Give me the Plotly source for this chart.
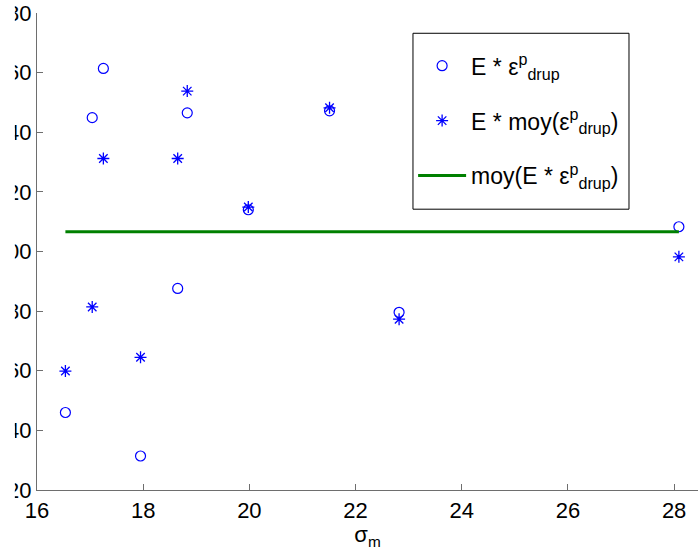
import plotly.graph_objects as go

# sigma_m values (x)
sigma_m = [16.535, 17.04, 17.25, 17.95, 18.65, 18.83, 19.98, 21.51, 22.82, 28.09]
# E * eps_drup^p (circles)
e_eps = [146.0, 244.9, 261.4, 131.4, 187.6, 246.5, 214.0, 247.2, 179.6, 208.3]
# E * moy(eps_drup^p) (stars)
e_moy_eps = [159.9, 181.4, 231.2, 164.5, 231.2, 253.8, 214.9, 248.2, 177.3, 198.2]
# moy(E * eps_drup^p) (horizontal line)
moy_x = [16.535, 28.09]
moy_y = [206.6, 206.6]

x_ticks = [16, 18, 20, 22, 24, 26, 28]
y_ticks = [120, 140, 160, 180, 200, 220, 240, 260, 280]

FONT = "Arial, Liberation Sans, sans-serif"

fig = go.Figure()
fig.add_trace(go.Scatter(
    x=sigma_m, y=e_eps, mode="markers",
    name="E * ε<sup>p</sup><sub>drup</sub>",
    legendgroup="a",
    marker=dict(symbol="circle-open", size=10, color="#0000FF", line=dict(width=1.2, color="#0000FF")),
))
fig.add_trace(go.Scatter(
    x=sigma_m, y=e_moy_eps, mode="markers",
    name="E * moy(ε<sup>p</sup><sub>drup</sub>)",
    legendgroup="b",
    marker=dict(symbol="asterisk-open", size=10, color="#0000FF", line=dict(width=1.3, color="#0000FF")),
))
fig.add_trace(go.Scatter(
    x=moy_x, y=moy_y, mode="lines",
    name="moy(E * ε<sup>p</sup><sub>drup</sub>)",
    legendgroup="c",
    line=dict(color="#008000", width=3),
))

# legend frame
fig.add_shape(
    type="rect", xref="paper", yref="paper",
    x0=0.5688, x1=0.8956, y0=0.5887, y1=0.9575,
    line=dict(color="black", width=1), fillcolor="white", layer="above",
)
# the reference picture is cropped on its left side (tick labels partly cut)
fig.add_shape(
    type="rect", xref="paper", yref="paper",
    x0=-0.07, x1=-0.0335, y0=-0.2, y1=1.1,
    line=dict(width=0), fillcolor="white", layer="above",
)

fig.update_layout(
    width=698, height=556,
    margin=dict(l=37, r=0, t=13, b=66, autoexpand=False),
    paper_bgcolor="white", plot_bgcolor="white",
    font=dict(family=FONT, size=22, color="black"),
    showlegend=True,
    legend=dict(
        x=0.569, y=0.9345, xanchor="left", yanchor="top",
        bgcolor="rgba(0,0,0,0)", borderwidth=0,
        font=dict(family=FONT, size=23, color="black"),
        tracegroupgap=22, traceorder="grouped",
        itemwidth=48,
    ),
    xaxis=dict(
        range=[16, 28.45], tickvals=x_ticks, ticktext=[str(v) for v in x_ticks],
        showgrid=False, zeroline=False, showline=True, linecolor="#6e6e6e", linewidth=1.2,
        ticks="inside", ticklen=6, tickcolor="#6e6e6e", mirror=False,
        automargin=False, ticklabelstandoff=0,
        title=dict(text="σ<sub>m</sub>", font=dict(family=FONT, size=22), standoff=0),
    ),
    yaxis=dict(
        range=[120, 280], tickvals=y_ticks, ticktext=[str(v) for v in y_ticks],
        showgrid=False, zeroline=False, showline=True, linecolor="#6e6e6e", linewidth=1.2,
        ticks="inside", ticklen=6, tickcolor="#6e6e6e", mirror=False,
        automargin=False,
    ),
)

fig.write_html("out.html", config={"displayModeBar": False},
               post_script="document.body.style.margin='0';")
